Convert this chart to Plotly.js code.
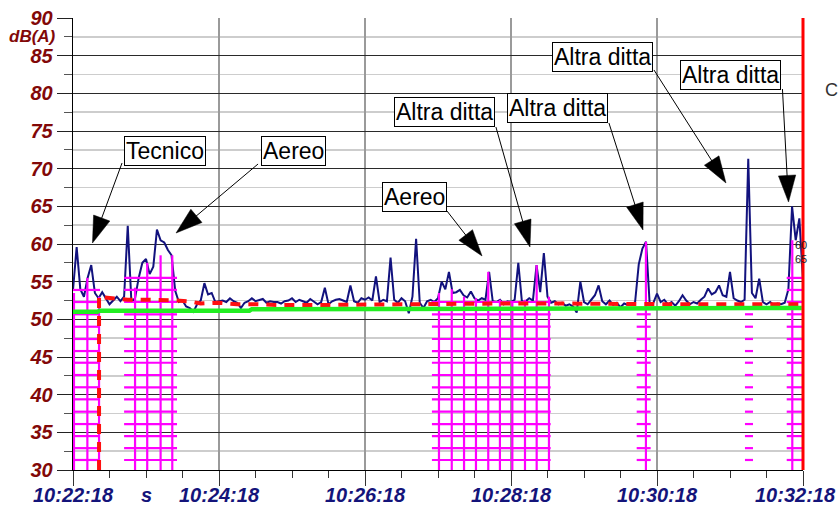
<!DOCTYPE html>
<html><head><meta charset="utf-8">
<script src="https://cdn.plot.ly/plotly-3.0.1.min.js"></script>
<style>html,body{margin:0;padding:0;background:#fff}#chart{width:840px;height:508px}</style>
</head><body><div id="chart"></div>
<script>
// ---------- DATA ----------
const DAY = '2000-01-01 ';
const startClock = '10:22:18';
const sampleStepSec = 3;
// Sound level dB(A), one value every 3 s from 10:22:18 to 10:32:18
const levelDb = [
 53.9,59.6,54.0,53.0,55.5,57.2,53.5,52.8,53.6,52.8,
 52.0,52.5,53.0,52.4,53.0,62.4,52.3,52.8,55.5,57.5,
 58.0,56.0,57.0,61.9,60.5,60.2,59.2,58.5,53.8,52.3,
 52.5,51.7,51.5,51.0,52.0,52.5,54.8,53.3,53.5,52.3,
 52.4,52.5,52.3,52.8,52.4,52.2,51.5,52.2,52.4,52.8,
 52.4,52.5,52.7,52.2,52.4,52.3,52.3,52.1,52.4,52.5,
 52.8,52.3,52.6,52.4,52.2,52.7,52.3,52.0,52.3,54.2,
 52.0,52.4,52.6,52.7,52.5,52.3,54.5,52.4,52.2,52.8,
 52.6,52.9,52.5,55.7,52.3,52.6,52.4,58.2,52.6,52.2,
 52.8,52.4,50.8,53.0,60.7,52.2,51.5,52.4,52.6,52.3,
 52.8,55.0,54.0,56.3,53.5,53.6,53.9,53.2,52.9,53.7,
 52.8,52.5,52.8,52.6,56.3,52.4,52.3,52.6,52.0,52.4,
 52.3,52.6,57.5,52.3,52.4,52.8,52.5,57.2,53.6,58.8,
 53.0,52.2,52.4,52.0,52.2,51.8,52.0,51.7,50.9,55.0,
 52.3,52.0,52.6,53.2,54.5,52.4,52.0,52.5,51.9,52.2,
 51.6,52.1,51.9,52.0,52.3,57.3,59.4,60.3,52.0,52.2,
 53.4,52.3,52.6,52.0,52.3,51.8,52.4,53.2,52.5,52.0,
 52.3,52.1,52.6,53.0,54.1,53.3,53.6,54.5,53.2,53.0,
 56.3,52.8,52.5,52.3,52.6,71.3,53.5,52.8,55.4,52.3,
 52.0,52.3,51.9,52.1,52.0,52.2,54.0,65.0,60.5,63.4,
 55.2
];
// Running Leq (red dashed)
const leqSec = [21.4, 21.4, 25, 35, 45, 60, 75, 85, 95, 105, 120, 135, 150, 170, 200, 250, 300, 350, 400, 450, 500, 550, 599];
const leqDb  = [30.0, 53.1, 52.9, 52.8, 52.6, 52.6, 52.6, 52.5, 52.4, 52.1, 52.2, 52.0, 52.0, 51.9, 51.9, 52.0, 52.0, 52.1, 52.1, 52.0, 52.0, 52.0, 52.0];
// Background level (green)
const bgSec = [0, 20, 22, 145, 147, 300, 400, 599];
const bgDb  = [51.0, 51.0, 51.15, 51.15, 51.35, 51.4, 51.45, 51.5];
// Marked event blocks (magenta hatch)
const blockStartSec = [0, 42, 295, 463.3, 552.3, 586.6];
const blockEndSec   = [22.2, 85.5, 392.6, 474.8, 558.9, 599.7];
const blockTopDb    = [53.9, 55.5, 52.3, 50.7, 50.7, 55.7];
const hatchLevelsDb = [31.33, 32.9, 34.5, 36.1, 37.74, 39.38, 40.98, 42.61, 44.24, 45.79, 47.39, 49.02, 50.67, 52.3, 53.9, 55.5];
const hatchSec   = [0.8, 11.8, 21.4, 51, 61, 72, 81.6, 300.8, 311.3, 321.4, 331.2, 341.3, 350.9, 361.1, 371.5, 381.1, 391.2, 470.9, 591.2];
const hatchTopDb = [53.5, 55.5, 53.0, 54.2, 57.5, 58.5, 58.5, 53.5, 54.0, 53.0, 52.8, 56.3, 52.6, 52.3, 52.6, 57.2, 53.0, 60.3, 60.5];
// Callouts
const calloutText  = ['Tecnico', 'Aereo', 'Aereo', 'Altra ditta', 'Altra ditta', 'Altra ditta', 'Altra ditta'];
const calloutSec   = [75.6, 181.2, 280.3, 305.3, 398.6, 435.2, 540.4];
const calloutDb    = [72.41, 72.41, 66.24, 77.46, 77.99, 84.82, 82.37];
const arrowTailSec = [40.3, 152.1, 307.4, 347.6, 440.5, 477.5, 583.1];
const arrowTailDb  = [70.75, 70.62, 64.38, 75.53, 76.06, 83.1, 80.57];
const arrowTipSec  = [16.0, 84.7, 336.2, 375.6, 468.5, 536.7, 588.1];
const arrowTipDb   = [60.13, 61.46, 58.41, 59.6, 61.86, 68.1, 65.57];
const endLabels    = ['60', '65'];
const endLabelDb   = [59.9, 58.0];
const xTickSec     = [0, 120, 240, 360, 480, 600];
const xTickText    = ['10:22:18', '10:24:18', '10:26:18', '10:28:18', '10:30:18', '10:32:18'];

// ---------- helpers ----------
const base = Date.UTC(2000, 0, 1, 10, 22, 18);
function toDate(sec) {
  return new Date(base + Math.round(sec * 1000)).toISOString().replace('T', ' ').replace('Z', '');
}

const traces = [];
const hx = [], hy = [];
blockStartSec.forEach((s, i) => {
  hatchLevelsDb.forEach(l => {
    if (l <= blockTopDb[i]) { hx.push(toDate(s), toDate(blockEndSec[i]), null); hy.push(l, l, null); }
  });
});
hatchSec.forEach((s, i) => { hx.push(toDate(s), toDate(s), null); hy.push(30, hatchTopDb[i], null); });

traces.push({type: 'scatter', mode: 'lines', x0: DAY + startClock, dx: sampleStepSec * 1000, y: levelDb,
  line: {color: '#12127e', width: 2}, hoverinfo: 'skip'});
traces.push({type: 'scatter', mode: 'lines', x: hx, y: hy, line: {color: '#ff00ff', width: 2.2}, connectgaps: false, hoverinfo: 'skip'});
traces.push({type: 'scatter', mode: 'lines', x: leqSec.map(toDate), y: leqDb, line: {color: '#ff1010', width: 4, dash: '10px,8px'}, hoverinfo: 'skip'});
traces.push({type: 'scatter', mode: 'lines', x: bgSec.map(toDate), y: bgDb, line: {color: '#22ee22', width: 4.5}, hoverinfo: 'skip'});
arrowTailSec.forEach((s, i) => {
  traces.push({type: 'scatter', mode: 'lines+markers', x: [toDate(s), toDate(arrowTipSec[i])], y: [arrowTailDb[i], arrowTipDb[i]],
    line: {color: '#000', width: 1},
    marker: {symbol: 'arrow', size: [0, 28], angleref: 'previous', color: '#000', opacity: 1, line: {width: 0.5, color: '#000'}},
    hoverinfo: 'skip'});
});

const annotations = calloutText.map((t, i) => ({
  x: toDate(calloutSec[i]), y: calloutDb[i], xref: 'x', yref: 'y', text: t, showarrow: false,
  font: {family: 'Liberation Sans, Arial, sans-serif', size: 23, color: '#000'},
  bgcolor: '#fff', bordercolor: '#000', borderwidth: 1, borderpad: 1
}));
const redFont = {family: 'Liberation Sans, Arial, sans-serif', size: 20, color: '#820808', weight: 'bold', style: 'italic'};
const blueFont = {family: 'Liberation Sans, Arial, sans-serif', size: 20, color: '#14147a', weight: 'bold', style: 'italic'};
annotations.push({xref: 'paper', yref: 'y', x: -0.0205, y: 87.6, xanchor: 'right', yanchor: 'middle', text: 'dB(A)', showarrow: false,
  font: Object.assign({}, redFont, {size: 17})});
annotations.push({xref: 'x', yref: 'paper', x: toDate(60), y: -0.055, xanchor: 'center', yanchor: 'middle', text: 's', showarrow: false, font: blueFont});
// last time label kept inside the page
annotations.push({xref: 'paper', yref: 'paper', x: 1.048, y: -0.055, xanchor: 'right', yanchor: 'middle', text: xTickText[xTickText.length - 1], showarrow: false, font: blueFont});
endLabels.forEach((t, i) => annotations.push({xref: 'paper', yref: 'y', x: 0.997, y: endLabelDb[i], xanchor: 'center', yanchor: 'middle',
  text: t, showarrow: false, font: {family: 'Liberation Sans, Arial, sans-serif', size: 11, color: '#222'}}));
annotations.push({xref: 'paper', yref: 'y', x: 1.0507, y: 80.5, xanchor: 'right', yanchor: 'middle', text: 'C', showarrow: false,
  font: {family: 'Liberation Sans, Arial, sans-serif', size: 18, color: '#333'}});

const layout = {
  width: 840, height: 508,
  margin: {l: 73, r: 37, t: 18, b: 38},
  paper_bgcolor: '#fff', plot_bgcolor: '#fff', showlegend: false,
  xaxis: {
    type: 'date', range: [DAY + startClock, toDate(600)],
    tickmode: 'array', tickvals: xTickSec.map(toDate), ticktext: xTickText.map((t, i) => i === xTickText.length - 1 ? ' ' : t),
    ticks: 'outside', ticklen: 15, tickcolor: '#333', tickwidth: 1,
    showgrid: true, gridcolor: '#9a9a9a', gridwidth: 1.3, showline: true, linecolor: '#000', linewidth: 1.3,
    tickfont: blueFont, zeroline: false, ticklabeloverflow: 'allow', ticklabelstandoff: -8,
    minor: {tickmode: 'linear', tick0: DAY + startClock, dtick: 30000, ticklen: 7, tickcolor: '#333', showgrid: false}
  },
  yaxis: {
    range: [30, 90], tick0: 30, dtick: 5, ticks: 'outside', ticklen: 15, tickcolor: '#222', tickwidth: 1,
    showgrid: true, gridcolor: '#2a2a2a', gridwidth: 1, showline: true, linecolor: '#000', linewidth: 1.3,
    tickfont: redFont, zeroline: false,
    minor: {dtick: 2.5, ticklen: 8, tickcolor: '#555', showgrid: true, gridcolor: '#cdcdcd', gridwidth: 1.5}
  },
  shapes: [{type: 'line', xref: 'paper', yref: 'paper', x0: 1, x1: 1, y0: 0, y1: 1, line: {color: '#ff0000', width: 3}}],
  annotations: annotations
};
Plotly.newPlot('chart', traces, layout, {displayModeBar: false, staticPlot: true});
</script>
</body></html>
